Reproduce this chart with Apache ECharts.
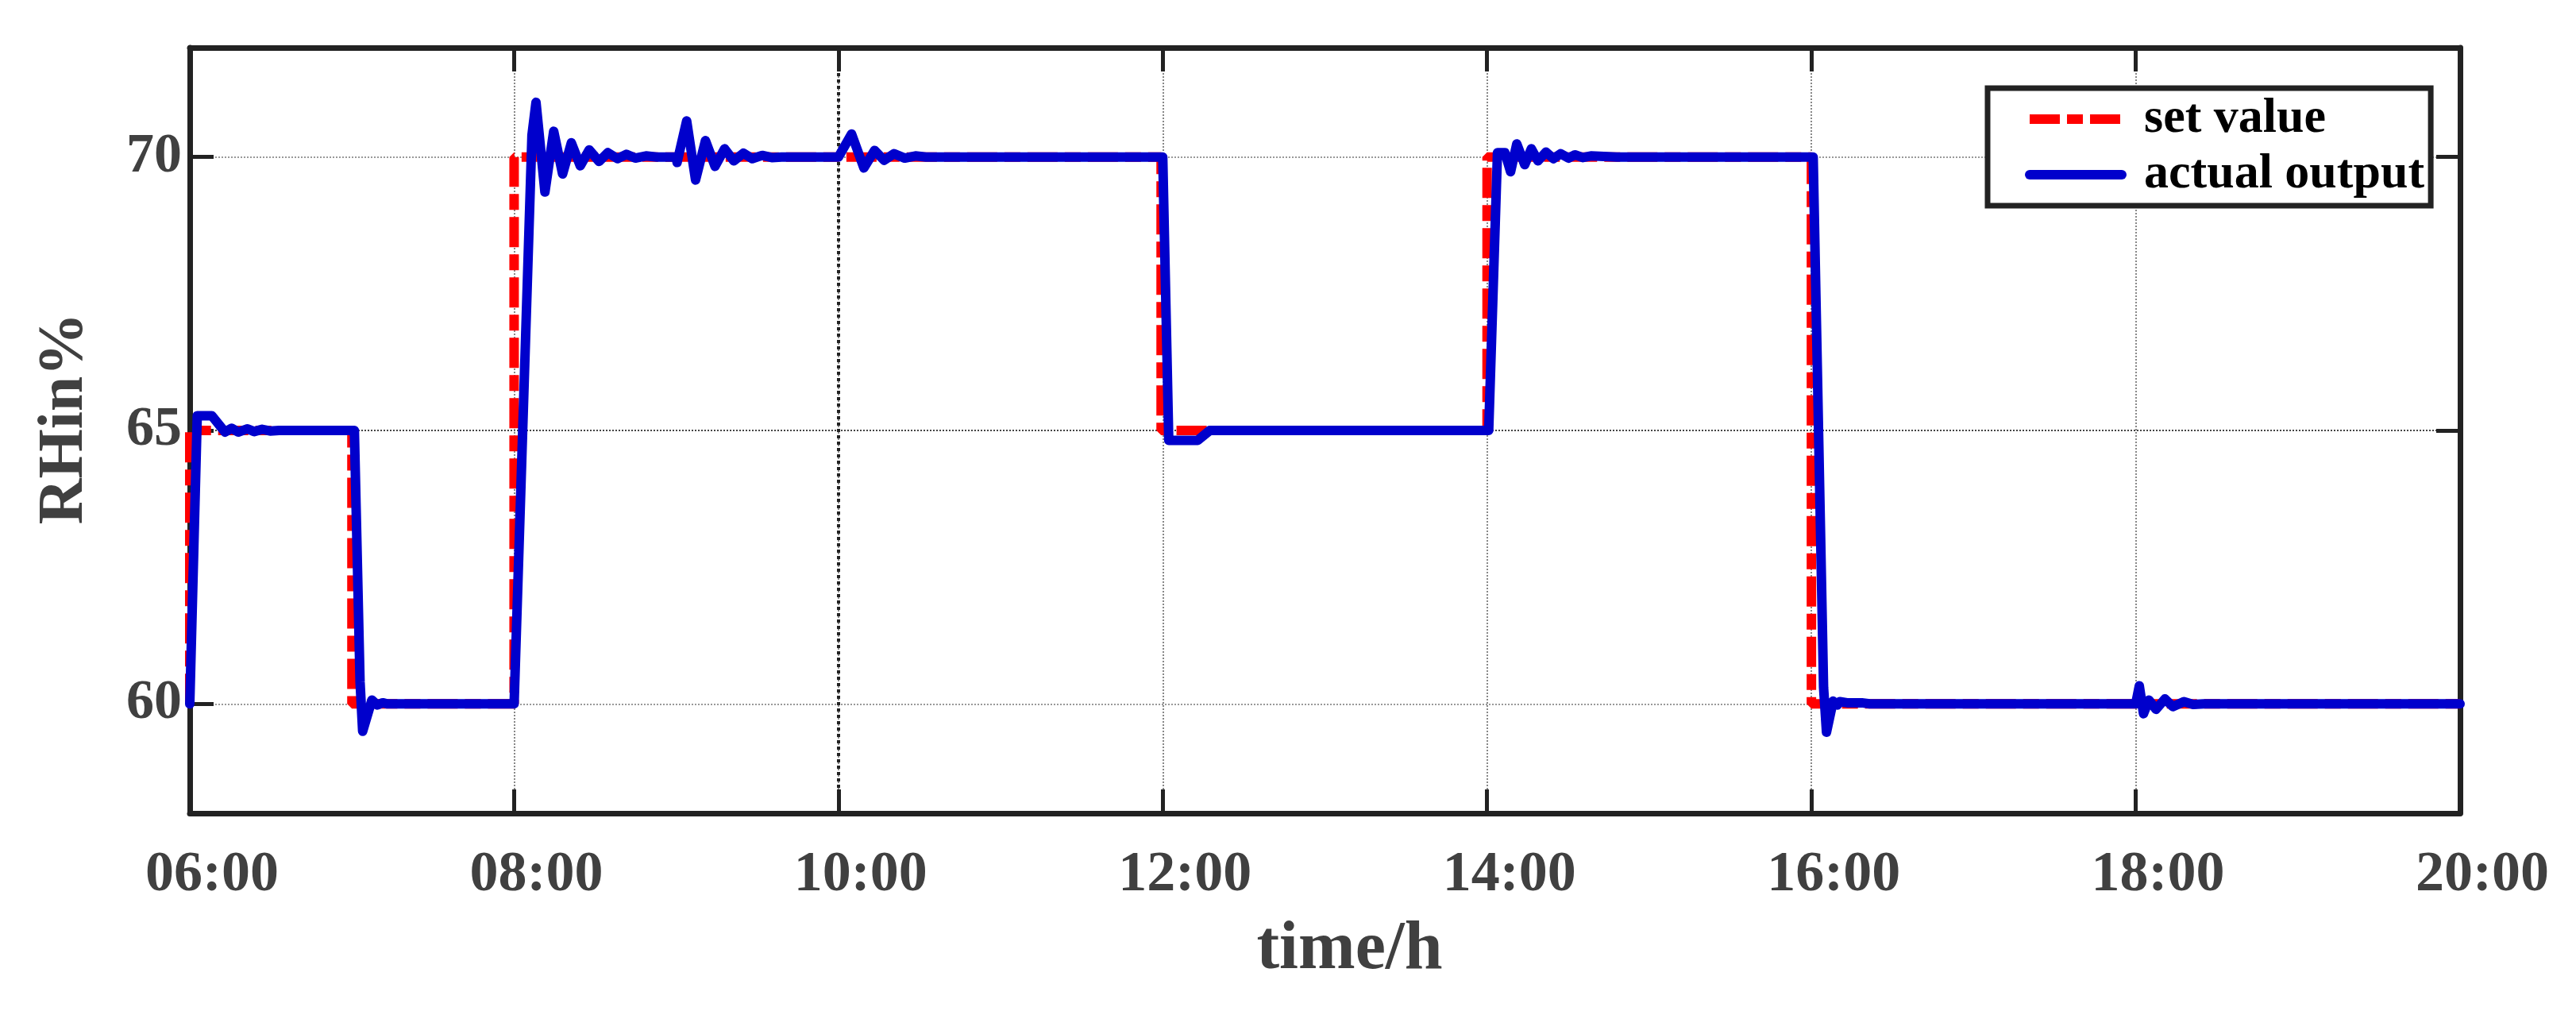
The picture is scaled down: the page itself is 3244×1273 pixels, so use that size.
<!DOCTYPE html>
<html>
<head>
<meta charset="utf-8">
<script src="https://cdn.jsdelivr.net/npm/echarts@6/dist/echarts.min.js"></script>
<style>
  html, body { margin: 0; padding: 0; background: #fff; }
  #chart { width: 3244px; height: 1273px; }
</style>
</head>
<body>
<div id="chart"></div>
<script>
// set value (step changes), time in hours
var setTime = [6, 6, 7, 7, 8, 8, 11.99, 11.99, 14, 14, 16, 16, 20];
var setValue = [60, 65, 65, 60, 60, 70, 70, 65, 65, 70, 70, 60, 60];

// actual output
var outTime = [
  6.0, 6.046, 6.136, 6.217, 6.258, 6.299, 6.356, 6.397, 6.446, 6.495, 6.55,
  7.015, 7.05, 7.066, 7.123, 7.156, 7.19, 7.22,
  8.0, 8.11, 8.135, 8.19, 8.244, 8.299, 8.353, 8.408, 8.463, 8.524, 8.578, 8.637, 8.692, 8.747, 8.813, 8.88,
  9.0, 9.005, 9.064, 9.119, 9.18, 9.239, 9.298, 9.355, 9.414, 9.469, 9.53, 9.589, 9.65,
  10.0, 10.081, 10.157, 10.223, 10.282, 10.343, 10.409, 10.475, 10.54,
  12.0, 12.037, 12.216, 12.29,
  14.01, 14.064, 14.11, 14.145, 14.183, 14.232, 14.273, 14.314, 14.363, 14.409, 14.453, 14.502, 14.542, 14.59, 14.64, 14.72, 14.8,
  16.011, 16.075, 16.093, 16.134, 16.16, 16.175, 16.22, 16.31, 16.36,
  18.0, 18.022, 18.048, 18.081, 18.125, 18.18, 18.229, 18.297, 18.354, 18.42,
  20
];
var outValue = [
  60, 65.27, 65.27, 64.97, 65.04, 64.97, 65.03, 64.98, 65.02, 64.99, 65,
  65, 60.4, 59.5, 60.07, 59.98, 60.02, 60,
  60, 70.4, 71.0, 69.36, 70.47, 69.69, 70.26, 69.84, 70.13, 69.92, 70.08, 69.97, 70.05, 69.98, 70.02, 70,
  70, 69.9, 70.66, 69.58, 70.3, 69.83, 70.15, 69.93, 70.07, 69.97, 70.03, 69.99, 70,
  70, 70.42, 69.8, 70.12, 69.94, 70.06, 69.98, 70.02, 70,
  70, 64.82, 64.82, 65,
  65, 70.08, 70.08, 69.73, 70.24, 69.86, 70.15, 69.93, 70.09, 69.97, 70.06, 69.98, 70.04, 69.99, 70.02, 70.01, 70,
  70, 60.3, 59.48, 60.05, 59.98, 60.04, 60.02, 60.02, 60,
  60, 60.33, 59.82, 60.07, 59.9, 60.09, 59.95, 60.04, 59.99, 60,
  60
];

var xTicks = [6, 8, 10, 12, 14, 16, 18, 20];
var yTicks = [60, 65, 70];

var font = 'Liberation Serif';
var axisColor = '#222';

function pairs(xs, ys) {
  return xs.map(function (x, i) { return [x, ys[i]]; });
}

// light dotted grid, nothing on the frame edges
var xGridColors = xTicks.map(function (v) {
  return (v === 6 || v === 20) ? 'rgba(0,0,0,0)' : '#888';
});
var yGridColors = yTicks.map(function (v) {
  return v === 65 ? '#444' : '#999';
});

var frameLine = { show: true, onZero: false, lineStyle: { color: axisColor, width: 7 } };
var frameTick = { show: true, inside: true, length: 30, lineStyle: { color: axisColor, width: 5 } };

var chart = echarts.init(document.getElementById('chart'));
chart.setOption({
  animation: false,
  grid: { left: 239, right: 146, top: 60, bottom: 249 },
  legend: {
    orient: 'vertical',
    left: 2503,
    top: 111,
    padding: [8, 8, 8, 47],
    itemGap: 8,
    itemWidth: 116,
    itemHeight: 14,
    borderColor: axisColor,
    borderWidth: 7,
    backgroundColor: '#fff',
    itemStyle: { opacity: 0 },
    lineStyle: { width: 12 },
    textStyle: {
      fontFamily: font, fontWeight: 'bold', fontSize: 62, color: '#000',
      lineHeight: 62, padding: [0, 0, 0, 23]
    },
    data: ['set value', 'actual output']
  },
  xAxis: [
    {
      type: 'value', min: 6, max: 20, interval: 2, position: 'bottom',
      axisLine: frameLine,
      axisTick: frameTick,
      axisLabel: {
        margin: 42,
        fontFamily: font, fontWeight: 'bold', fontSize: 72, color: '#404040',
        padding: [0, 0, 0, 56],
        formatter: function (v) { return (v < 10 ? '0' : '') + v + ':00'; }
      },
      splitLine: { show: true, lineStyle: { type: 'dotted', width: 2, color: xGridColors } },
      name: 'time/h', nameLocation: 'middle', nameGap: 130,
      nameTextStyle: {
        fontFamily: font, fontWeight: 'bold', fontSize: 86, color: '#404040',
        padding: [0, 0, 0, 62]
      }
    },
    {
      type: 'value', min: 6, max: 20, interval: 2, position: 'top',
      axisLine: frameLine,
      axisTick: frameTick,
      axisLabel: { show: false },
      splitLine: { show: false }
    },
    {
      // darker dashed line at 10:00
      type: 'value', min: 6, max: 20, position: 'bottom',
      axisLine: { show: false },
      axisTick: { show: false, customValues: [10] },
      axisLabel: { show: false },
      splitLine: { show: true, lineStyle: { type: [4, 4], width: 4, color: '#222' } }
    }
  ],
  yAxis: [
    {
      type: 'value', min: 58, max: 72, position: 'left',
      axisLine: frameLine,
      axisTick: Object.assign({ customValues: yTicks }, frameTick),
      axisLabel: {
        customValues: yTicks, margin: 10,
        fontFamily: font, fontWeight: 'bold', fontSize: 70, color: '#404040',
        padding: [24, 0, 0, 0]
      },
      splitLine: { show: true, lineStyle: { type: 'dotted', width: 2, color: yGridColors } },
      name: 'RHin%', nameLocation: 'middle', nameGap: 117,
      nameTextStyle: {
        fontFamily: font, fontWeight: 'bold', fontSize: 80, color: '#404040',
        padding: [0, 0, 0, 30]
      }
    },
    {
      type: 'value', min: 58, max: 72, position: 'right',
      axisLine: frameLine,
      axisTick: Object.assign({ customValues: yTicks }, frameTick),
      axisLabel: { show: false },
      splitLine: { show: false }
    }
  ],
  series: [
    {
      name: 'set value', type: 'line', xAxisIndex: 0, yAxisIndex: 0,
      data: pairs(setTime, setValue),
      symbol: 'none',
      itemStyle: { color: '#FF0000' },
      lineStyle: { color: '#FF0000', width: 12, type: [38, 9, 20, 9], cap: 'butt' },
      z: 3
    },
    {
      name: 'actual output', type: 'line', xAxisIndex: 0, yAxisIndex: 0,
      data: pairs(outTime, outValue),
      symbol: 'none',
      itemStyle: { color: '#0000CC' },
      lineStyle: { color: '#0000CC', width: 12, cap: 'round', join: 'round' },
      z: 4
    }
  ]
});
</script>
</body>
</html>
